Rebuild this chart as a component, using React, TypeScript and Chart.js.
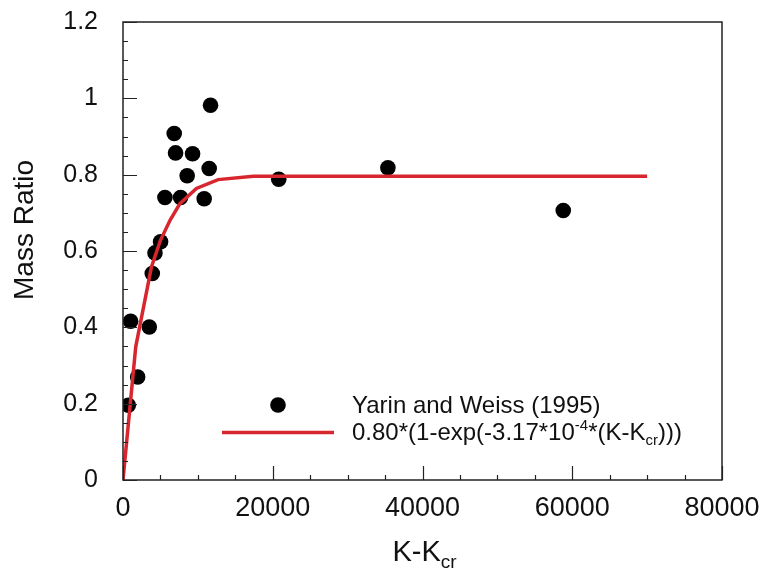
import React, { useEffect, useRef } from "react";
import { Chart, registerables } from "chart.js";

Chart.register(...registerables);

// Data
const dotX = [710, 1020, 1960, 3510, 3910, 4270, 5020, 5600, 6840, 7020, 7690, 8570, 9290, 10840, 11510, 11690, 20800, 35380, 58800];
const dotY = [0.196, 0.416, 0.270, 0.401, 0.541, 0.595, 0.624, 0.740, 0.908, 0.857, 0.740, 0.797, 0.855, 0.737, 0.816, 0.982, 0.788, 0.818, 0.706];
const fitX = [0, 1700, 3800, 5000, 6300, 7600, 9800, 12700, 17400, 70000];
const fitY = [0, 0.349, 0.558, 0.628, 0.681, 0.724, 0.764, 0.787, 0.796, 0.796];

const xTickValues = [0, 20000, 40000, 60000, 80000];
const yTickValues = [0, 0.2, 0.4, 0.6, 0.8, 1, 1.2];
const xMinorStep = 5000;
const yMinorStep = 0.05;

const dotLabel = "Yarin and Weiss (1995)";
const xTitle = [{ t: "K-K", sub: false }, { t: "cr", sub: true }];
const yTitle = "Mass Ratio";

const FONT = '"Liberation Sans", Arial, Helvetica, sans-serif';
const RED = "#d7262e";

type Seg = { t: string; size: number; dy: number };

function drawSegs(ctx: CanvasRenderingContext2D, segs: Seg[], x: number, y: number) {
  let cx = x;
  for (const s of segs) {
    ctx.font = `${s.size}px ${FONT}`;
    ctx.fillText(s.t, cx, y + s.dy);
    cx += ctx.measureText(s.t).width;
  }
}

const decorPlugin = {
  id: "decor",
  afterDraw(chart: any) {
    const ctx: CanvasRenderingContext2D = chart.ctx;
    const { left, right, top, bottom } = chart.chartArea;
    const xs = chart.scales.x;
    const ys = chart.scales.y;
    ctx.save();
    // frame
    ctx.strokeStyle = "#222";
    ctx.lineWidth = 1.5;
    ctx.strokeRect(left, top, right - left, bottom - top);
    // inward ticks
    ctx.lineWidth = 1.2;
    ctx.beginPath();
    for (let v = 0; v <= 80000 + 1; v += xMinorStep) {
      const px = Math.round(xs.getPixelForValue(v)) + 0.5;
      const major = v % 20000 === 0;
      ctx.moveTo(px, bottom);
      ctx.lineTo(px, bottom - (major ? 14 : 5));
    }
    for (let i = 0; i <= 24; i++) {
      const v = i * yMinorStep;
      const py = Math.round(ys.getPixelForValue(v)) + 0.5;
      const major = i % 4 === 0;
      ctx.moveTo(left, py);
      ctx.lineTo(left + (major ? 14 : 5), py);
    }
    ctx.stroke();

    ctx.fillStyle = "#111";
    ctx.textBaseline = "alphabetic";
    ctx.textAlign = "left";
    // x title
    ctx.font = `29px ${FONT}`;
    const mainW = ctx.measureText(xTitle[0].t).width;
    ctx.font = `19px ${FONT}`;
    const subW = ctx.measureText(xTitle[1].t).width;
    const cx = (left + right) / 2;
    const startX = cx - (mainW + subW) / 2 + 2;
    drawSegs(ctx, [
      { t: xTitle[0].t, size: 29, dy: 0 },
      { t: xTitle[1].t, size: 19, dy: 7 },
    ], startX, 561);

    // y title
    ctx.save();
    ctx.translate(33, 230);
    ctx.rotate(-Math.PI / 2);
    ctx.textAlign = "center";
    ctx.font = `28px ${FONT}`;
    ctx.fillText(yTitle, 0, 0);
    ctx.restore();

    // legend
    const symX = 278;
    ctx.fillStyle = "#000";
    ctx.beginPath();
    ctx.arc(symX, 405, 7.8, 0, Math.PI * 2);
    ctx.fill();
    ctx.strokeStyle = RED;
    ctx.lineWidth = 3.5;
    ctx.beginPath();
    ctx.moveTo(222, 432.5);
    ctx.lineTo(334, 432.5);
    ctx.stroke();

    ctx.fillStyle = "#111";
    ctx.textAlign = "left";
    ctx.font = `24px ${FONT}`;
    ctx.fillText(dotLabel, 352, 413);
    drawSegs(ctx, [
      { t: "0.80*(1-exp(-3.17*10", size: 24, dy: 0 },
      { t: "-4", size: 15, dy: -10 },
      { t: "*(K-K", size: 24, dy: 0 },
      { t: "cr", size: 15, dy: 5 },
      { t: ")))", size: 24, dy: 0 },
    ], 352, 440);
    ctx.restore();
  },
};

const zeroPad = (s: any) => {
  s.paddingLeft = 0;
  s.paddingRight = 0;
  s.paddingTop = 0;
  s.paddingBottom = 0;
};

export default function App() {
  const ref = useRef<HTMLCanvasElement | null>(null);
  useEffect(() => {
    if (!ref.current) return;
    const chart = new Chart(ref.current, {
      type: "scatter",
      data: {
        datasets: [
          {
            label: "fit",
            data: fitX.map((x, i) => ({ x, y: fitY[i] })),
            showLine: true,
            borderColor: RED,
            backgroundColor: RED,
            borderWidth: 3.5,
            pointRadius: 0,
            tension: 0,
          },
          {
            label: dotLabel,
            data: dotX.map((x, i) => ({ x, y: dotY[i] })),
            showLine: false,
            pointRadius: 7.8,
            pointBackgroundColor: "#000",
            pointBorderWidth: 0,
            borderColor: "#000",
          },
        ],
      },
      options: {
        animation: false,
        responsive: false,
        maintainAspectRatio: false,
        layout: { padding: { top: 22, right: 38, left: 0, bottom: 0 } },
        plugins: { legend: { display: false }, tooltip: { enabled: false } },
        scales: {
          x: {
            type: "linear",
            min: 0,
            max: 80000,
            afterBuildTicks: (s: any) => {
              s.ticks = xTickValues.map((v) => ({ value: v }));
            },
            afterFit: (s: any) => {
              s.height = 90;
              zeroPad(s);
            },
            grid: { display: false, drawTicks: false },
            border: { display: false },
            ticks: {
              color: "#111",
              font: { family: FONT, size: 27 },
              padding: 12,
              maxRotation: 0,
              callback: (v: any) => String(v),
            },
          },
          y: {
            type: "linear",
            min: 0,
            max: 1.2,
            afterBuildTicks: (s: any) => {
              s.ticks = yTickValues.map((v) => ({ value: v }));
            },
            afterFit: (s: any) => {
              s.width = 123;
              zeroPad(s);
            },
            grid: { display: false, drawTicks: false },
            border: { display: false },
            ticks: {
              color: "#111",
              font: { family: FONT, size: 25 },
              padding: 25,
              callback: (v: any) => String(Math.round(v * 10) / 10),
            },
          },
        },
      },
      plugins: [decorPlugin],
    });
    return () => chart.destroy();
  }, []);
  return (
    <div style={{ position: "fixed", left: 0, top: 0, width: 760, height: 570, background: "#fff" }}>
      <canvas ref={ref} width={760} height={570} style={{ width: 760, height: 570 }} />
    </div>
  );
}
